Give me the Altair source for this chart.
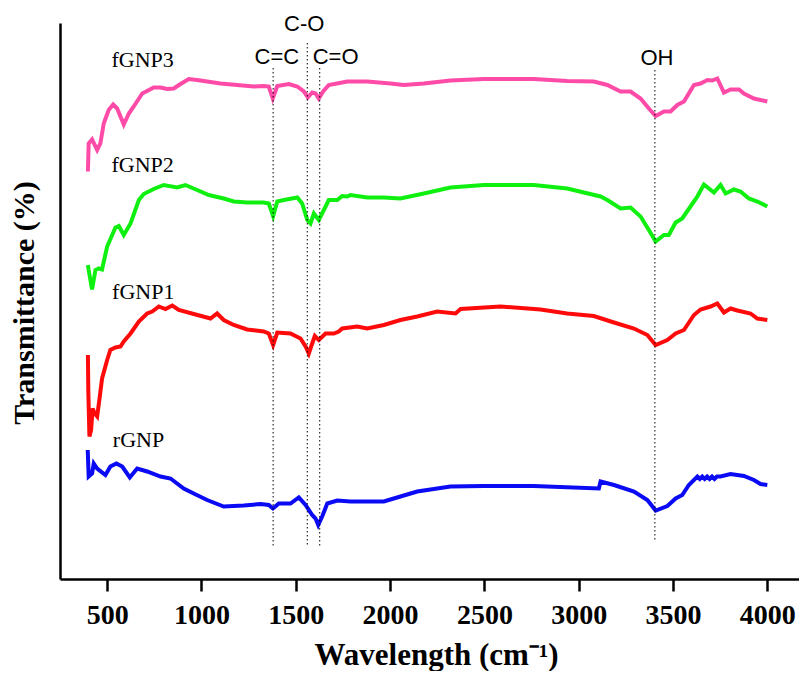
import altair as alt
import pandas as pd

# ---- data (wavenumber cm-1, transmittance arbitrary %) ----
wn_fgnp3 = [398, 402, 420, 447, 464, 482, 508, 532, 553, 588, 615, 641, 686, 747, 783, 818, 853, 889, 933, 977,
            1030, 1101, 1189, 1277, 1330, 1357, 1378, 1402, 1463, 1508, 1543, 1564, 1587, 1605, 1622, 1645, 1675,
            1773, 1879, 2002, 2073, 2179, 2320, 2497, 2762, 2939, 3080, 3152, 3222, 3275, 3328, 3372, 3408, 3452,
            3487, 3523, 3558, 3611, 3646, 3682, 3708, 3735, 3770, 3805, 3850, 3876, 3929, 4000]
t_fgnp3 = [81.5, 87.1, 87.9, 85.8, 87.1, 91.1, 93.8, 94.9, 94.1, 90.9, 93.1, 94.5, 97.1, 98.3, 98.3, 98.0, 98.1,
           99.0, 100.0, 99.8, 99.5, 99.1, 98.8, 98.5, 98.6, 98.5, 96.1, 98.6, 99.0, 98.5, 97.5, 96.3, 97.3, 97.1,
           96.1, 97.5, 98.8, 99.5, 99.5, 99.1, 98.8, 99.1, 99.7, 100.0, 100.0, 99.6, 99.5, 98.8, 97.5, 97.5, 96.1,
           94.1, 92.6, 93.5, 93.5, 94.8, 95.5, 98.8, 99.1, 99.8, 99.7, 100.1, 97.3, 97.9, 97.9, 97.1, 96.1, 95.5]

wn_fgnp2 = [398, 402, 420, 438, 455, 473, 500, 544, 562, 588, 624, 668, 694, 747, 800, 871, 915, 977, 1039, 1118,
            1171, 1242, 1330, 1357, 1380, 1402, 1437, 1508, 1534, 1561, 1578, 1596, 1622, 1649, 1675, 1720, 1746,
            1773, 1790, 1879, 1967, 2055, 2179, 2320, 2497, 2762, 2939, 3116, 3152, 3222, 3275, 3328, 3372, 3408,
            3452, 3478, 3514, 3549, 3611, 3629, 3664, 3717, 3752, 3779, 3823, 3858, 3902, 3947, 4000]
t_fgnp2 = [62.8, 61.8, 57.9, 61.8, 62.1, 61.9, 66.5, 70.3, 70.6, 68.8, 71.1, 75.8, 77.0, 78.0, 78.8, 78.3, 78.8,
           77.8, 76.8, 76.1, 75.5, 75.3, 75.3, 75.1, 72.6, 75.5, 75.8, 76.3, 75.1, 71.8, 71.1, 73.1, 71.8, 73.8,
           75.8, 75.8, 76.6, 76.5, 76.8, 76.3, 76.3, 76.1, 77.1, 78.3, 78.8, 78.8, 78.1, 76.5, 75.8, 74.1, 74.3,
           72.5, 69.8, 67.5, 68.8, 68.8, 71.3, 72.1, 75.5, 76.5, 78.9, 77.3, 78.8, 77.1, 77.9, 77.5, 76.1, 75.5, 74.5]

wn_fgnp1 = [398, 400, 406, 415, 423, 434, 447, 461, 473, 500, 517, 544, 571, 588, 624, 668, 712, 739, 774, 809,
            845, 880, 959, 1048, 1083, 1118, 1171, 1242, 1330, 1357, 1380, 1402, 1472, 1525, 1552, 1569, 1587,
            1601, 1622, 1658, 1702, 1728, 1746, 1826, 1879, 1967, 2055, 2144, 2250, 2347, 2374, 2586, 2798, 2939,
            3080, 3187, 3293, 3364, 3408, 3470, 3514, 3558, 3611, 3646, 3699, 3735, 3770, 3805, 3841, 3911, 3947, 4000]
t_fgnp1 = [44.8, 37.8, 28.5, 29.8, 34.1, 33.1, 32.5, 36.5, 40.1, 43.8, 45.8, 46.3, 46.5, 47.5, 49.1, 51.5, 53.1,
           53.5, 54.5, 54.0, 54.7, 53.8, 53.0, 52.1, 53.1, 51.8, 50.8, 49.9, 49.5, 49.1, 46.8, 49.3, 49.1, 48.1,
           46.5, 45.1, 47.1, 48.6, 47.8, 49.1, 49.1, 49.5, 50.1, 50.5, 50.1, 50.8, 51.8, 52.5, 53.5, 53.1, 54.0,
           54.5, 53.9, 53.1, 52.6, 51.3, 50.1, 48.8, 46.8, 47.8, 49.1, 49.8, 52.8, 53.9, 54.5, 55.1, 53.3, 54.1,
           53.7, 53.1, 52.1, 51.8]

wn_rgnp = [397, 402, 420, 429, 447, 491, 517, 549, 580, 620, 659, 712, 783, 836, 906, 959, 1030, 1118, 1224, 1313,
           1357, 1379, 1410, 1472, 1516, 1552, 1587, 1605, 1619, 1640, 1667, 1720, 1790, 1967, 2055, 2144, 2320,
           2497, 2762, 3107, 3116, 3187, 3293, 3364, 3408, 3470, 3514, 3549, 3584, 3629, 3642, 3655, 3668, 3681,
           3694, 3707, 3720, 3733, 3752, 3805, 3876, 3929, 3964, 4000]
t_rgnp = [25.8, 20.5, 21.1, 23.1, 22.1, 20.8, 22.5, 23.1, 22.5, 20.3, 22.1, 21.5, 20.5, 20.1, 18.1, 17.1, 15.8,
          14.5, 14.7, 15.0, 14.8, 14.1, 15.1, 15.1, 16.3, 14.8, 12.8, 12.1, 10.8, 12.5, 15.1, 15.7, 15.5, 15.5,
          16.5, 17.5, 18.5, 18.6, 18.6, 18.1, 19.5, 18.8, 17.5, 15.8, 13.7, 14.6, 16.1, 16.8, 18.8, 20.5, 20.0,
          20.5, 20.0, 20.5, 20.0, 20.5, 20.0, 20.5, 20.5, 21.0, 20.6, 19.8, 19.0, 18.8]

series_names = ["fGNP3", "fGNP2", "fGNP1", "rGNP"]
series_colors = ["#FF4BA8", "#10F010", "#FF0A0A", "#0A0AF5"]

# series labels
label_text = ["fGNP3", "fGNP2", "fGNP1", "rGNP"]
label_wn = [523, 523, 526, 530]
label_t = [103.8, 82.8, 57.5, 27.8]

# band markers
band_text = ["C=C", "C-O", "C=O", "OH"]
band_wn = [1380, 1561, 1627, 3404]
band_top = [102.2, 107.2, 102.2, 101.8]
band_bottom = [6.6, 6.6, 6.6, 7.8]
band_label_wn = [1400, 1545, 1711, 3415]
band_label_t = [104.5, 111.0, 104.5, 104.2]

x_ticks = [500, 1000, 1500, 2000, 2500, 3000, 3500, 4000]

# ---- build tables ----
rows = []
for name, wn, t in [("fGNP3", wn_fgnp3, t_fgnp3), ("fGNP2", wn_fgnp2, t_fgnp2),
                    ("fGNP1", wn_fgnp1, t_fgnp1), ("rGNP", wn_rgnp, t_rgnp)]:
    for i, (a, b) in enumerate(zip(wn, t)):
        rows.append({"series": name, "wn": a, "t": b, "i": i})
spectra = pd.DataFrame(rows)
labels = pd.DataFrame({"text": label_text, "wn": label_wn, "t": label_t})
bands = pd.DataFrame({"text": band_text, "wn": band_wn, "top": band_top, "bottom": band_bottom,
                      "lwn": band_label_wn, "lt": band_label_t})

xscale = alt.Scale(domain=[250, 4168], nice=False, zero=False)
yscale = alt.Scale(domain=[0, 111.2], nice=False, zero=False)

x_axis = alt.Axis(values=x_ticks, format="d", title="Wavelength (cm⁻¹)", grid=False,
                  labelFont="Liberation Serif", labelFontWeight="bold", labelFontSize=28, labelColor="black",
                  labelPadding=10, tickSize=12, tickWidth=2.5, tickColor="black",
                  domainColor="black", domainWidth=2.5,
                  titleFont="Liberation Serif", titleFontWeight="bold", titleFontSize=31, titleColor="black",
                  titleX=376, titleY=85, titleBaseline="alphabetic")
y_axis = alt.Axis(title="Transmittance (%)", labels=False, ticks=False, grid=False,
                  domainColor="black", domainWidth=2.5,
                  titleFont="Liberation Serif", titleFontWeight="bold", titleFontSize=30, titleColor="black",
                  titleX=-26.5, titleY=279.5, titleAngle=270, titleBaseline="alphabetic", titleAlign="center")

lines = alt.Chart(spectra).mark_line(strokeWidth=4, clip=True).encode(
    x=alt.X("wn:Q", scale=xscale, axis=x_axis),
    y=alt.Y("t:Q", scale=yscale, axis=y_axis),
    color=alt.Color("series:N", scale=alt.Scale(domain=series_names, range=series_colors), legend=None),
    order="i:Q",
)

rules = alt.Chart(bands).mark_rule(color="black", strokeWidth=1, strokeDash=[1.5, 2.5]).encode(
    x=alt.X("wn:Q", scale=xscale),
    y=alt.Y("top:Q", scale=yscale),
    y2="bottom:Q",
)

band_labels = alt.Chart(bands).mark_text(font="Liberation Sans", fontSize=22, color="black",
                                         align="center", baseline="middle").encode(
    x=alt.X("lwn:Q", scale=xscale),
    y=alt.Y("lt:Q", scale=yscale),
    text="text:N",
)

series_labels = alt.Chart(labels).mark_text(font="Liberation Serif", fontSize=22, color="black",
                                            align="left", baseline="middle").encode(
    x=alt.X("wn:Q", scale=xscale),
    y=alt.Y("t:Q", scale=yscale),
    text="text:N",
)

chart = alt.layer(lines, rules, band_labels, series_labels).properties(
    width=739, height=556,
    autosize=alt.AutoSizeParams(type="none"),
    padding={"left": 52, "top": 15, "right": 0, "bottom": 92},
    background="white",
).configure_view(strokeWidth=0)

chart.save("out.html", embed_options={"renderer": "svg", "actions": False})
